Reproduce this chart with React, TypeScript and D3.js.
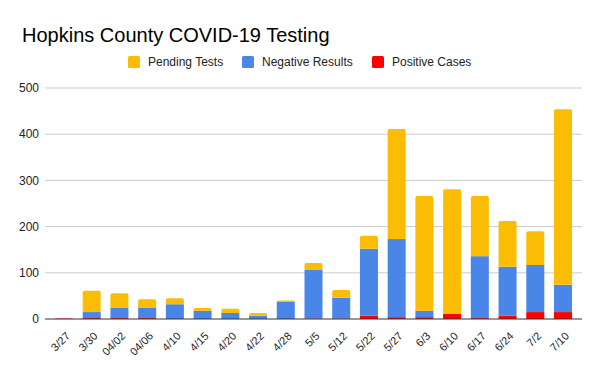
import React from 'react';
import * as d3 from 'd3';

const dates = ['3/27', '3/30', '04/02', '04/06', '4/10', '4/15', '4/20', '4/22', '4/28', '5/5', '5/12', '5/22', '5/27', '6/3', '6/10', '6/17', '6/24', '7/2', '7/10'];
const positive = [1, 2, 2, 2, 0, 0, 0, 0, 0, 1, 1, 7, 4, 4, 11, 2, 7, 15, 15];
const negative = [0, 13, 22, 22, 32, 18, 13, 7, 37, 105, 45, 145, 169, 14, 0, 134, 106, 102, 59];
const pending = [0, 46, 32, 19, 13, 6, 9, 6, 3, 15, 17, 28, 238, 248, 270, 130, 99, 73, 380];
const yTicks = [0, 100, 200, 300, 400, 500];

const seriesNames = ['Positive Cases', 'Negative Results', 'Pending Tests'];
const colors: Record<string, string> = {
  'Positive Cases': '#ff0000',
  'Negative Results': '#4a86e8',
  'Pending Tests': '#fbbc04',
};
const legendOrder = ['Pending Tests', 'Negative Results', 'Positive Cases'];

const width = 600;
const height = 371;
const margin = { top: 88, right: 18, bottom: 52, left: 45 };
const font = '"Liberation Sans", Arial, sans-serif';

// rect with rounded top corners only
function topRounded(x: number, y: number, w: number, h: number, r: number) {
  const rr = Math.min(r, h, w / 2);
  return `M${x},${y + h}V${y + rr}Q${x},${y} ${x + rr},${y}H${x + w - rr}Q${x + w},${y} ${x + w},${y + rr}V${y + h}Z`;
}

const App: React.FC = () => {
  const rows = dates.map((d, i) => ({
    date: d,
    'Positive Cases': positive[i],
    'Negative Results': negative[i],
    'Pending Tests': pending[i],
  }));

  const stack = d3.stack<any>().keys(seriesNames);
  const layers = stack(rows);

  const x = d3.scaleBand()
    .domain(dates)
    .range([margin.left, width - margin.right])
    .paddingInner(0.35)
    .paddingOuter(0.36);

  const y = d3.scaleLinear()
    .domain([0, 500])
    .range([height - margin.bottom, margin.top]);

  // topmost non-empty layer for each bar, to round it
  const topIdx = dates.map((_, i) => {
    let t = -1;
    layers.forEach((l, k) => { if (l[i][1] - l[i][0] > 0) t = k; });
    return t;
  });

  return (
    <svg width={width} height={height} style={{ position: 'absolute', left: 0, top: 0, background: '#fff' }} fontFamily={font}>
      <text x={22} y={42} fontSize={20} fill="#000">Hopkins County COVID-19 Testing</text>

      {legendOrder.map((name, i) => {
        const lx = [128, 242, 372][i];
        return (
          <g key={name}>
            <rect x={lx} y={56} width={12} height={12} rx={1.5} fill={colors[name]} />
            <text x={lx + 20} y={62} dy="0.35em" fontSize={12} fill="#222">{name}</text>
          </g>
        );
      })}

      {yTicks.map(t => (
        <g key={t}>
          {t > 0 && <line x1={margin.left} x2={width - margin.right} y1={y(t)} y2={y(t)} stroke="#cccccc" strokeWidth={1} />}
          <text x={39} y={y(t)} dy="0.35em" textAnchor="end" fontSize={12} fill="#222">{t}</text>
        </g>
      ))}

      {layers.map((layer, k) => (
        <g key={layer.key} fill={colors[layer.key]}>
          {layer.map((d, i) => {
            const h = y(d[0]) - y(d[1]);
            if (h <= 0) return null;
            const bx = x(dates[i]) as number;
            if (topIdx[i] === k) {
              return <path key={i} d={topRounded(bx, y(d[1]), x.bandwidth(), h, 2)} />;
            }
            return <rect key={i} x={bx} y={y(d[1])} width={x.bandwidth()} height={h} />;
          })}
        </g>
      ))}

      <line x1={margin.left} x2={width - margin.right} y1={y(0)} y2={y(0)} stroke="#333333" strokeWidth={1} />

      {dates.map(d => {
        const cx = (x(d) as number) + x.bandwidth() / 2;
        return (
          <text key={d} transform={`translate(${cx + 4},${334}) rotate(-45)`} dy="0.35em" textAnchor="end" fontSize={11} fill="#222">{d}</text>
        );
      })}
    </svg>
  );
};

export default App;
